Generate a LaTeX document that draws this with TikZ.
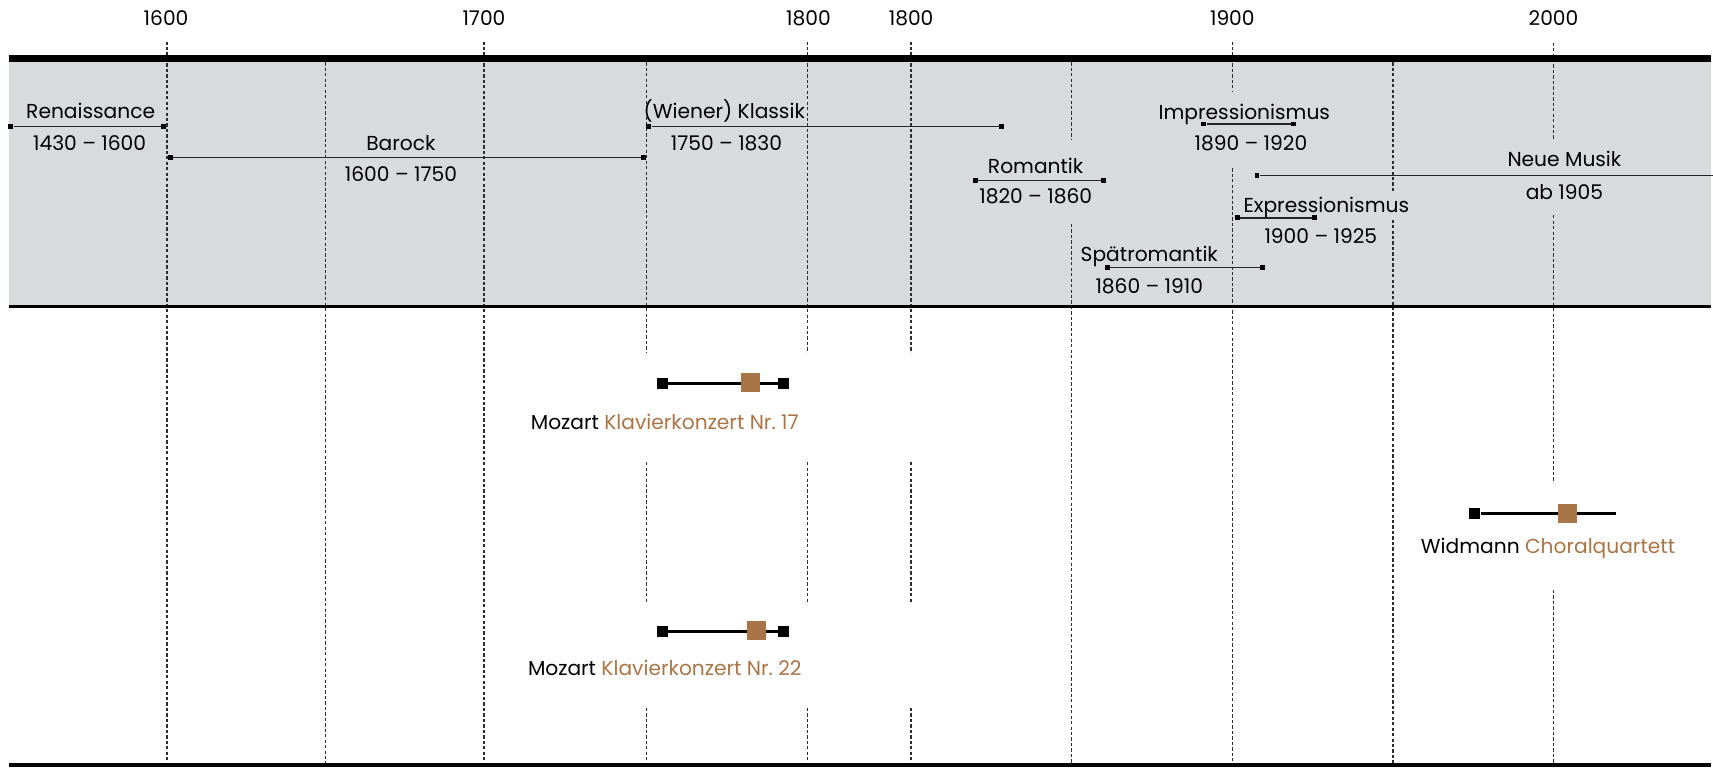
\documentclass[tikz,border=0pt]{standalone}
\usepackage{fontspec}
\setmainfont{Poppins}
\usetikzlibrary{positioning}

\definecolor{bandgray}{HTML}{D9DADC}
\definecolor{werkbraun}{HTML}{A97547}
\definecolor{gridgray}{HTML}{2E2E2E}

\tikzset{
  gridline/.style={gridgray, line width=1.2pt, dash pattern=on 3pt off 2pt},
  era/.style={line width=1.1pt, black!85},
  endpt/.style={rectangle, fill=black, inner sep=0pt, minimum size=4.5pt},
  lab/.style={inner sep=0pt, text height=13.4pt, text depth=0pt,
    font=\fontsize{18.5}{20}\selectfont},
  workline/.style={line width=2.6pt, black},
  workend/.style={rectangle, fill=black, inner sep=0pt, minimum size=10pt},
  workmark/.style={rectangle, fill=werkbraun, inner sep=0pt, minimum size=17.5pt}
}

\begin{document}
\begin{tikzpicture}[x=1pt, y=-1pt]
  \useasboundingbox (0,0) rectangle (1568,703);

  % band
  \fill[bandgray] (8,55) rectangle (1566,281);

  % dashed grid
  \foreach \x/\ya/\yb in {153/38/700, 298/57/700, 443/38/700,
      592/57/323, 592/423/551, 592/648/700,
      739/38/323, 739/423/551, 739/648/700,
      834/38/323, 834/423/551, 834/648/700,
      981/57/128, 981/205/700, 1128/38/84, 1128/154/700,
      1275/57/174.5, 1275/201/700,
      1422/39/127, 1422/197/442, 1422/540/700}
    \draw[gridline] (\x,\ya) -- (\x,\yb);

  % frame lines
  \draw[line width=6.4pt] (8,53.5) -- (1566,53.5);
  \draw[line width=3pt] (8,280.7) -- (1566,280.7);
  \draw[line width=4pt] (8,700.5) -- (1566,700.5);

  % years
  \foreach \x/\yr in {152/1600, 443/1700, 740/1800, 834/1800, 1128/1900, 1422/2000}
    \node[lab] (yr\x) at (\x,17) {\yr};

  % epochs
  \foreach \n/\xa/\xb/\y in {ren/10/150/116, bar/156/589/144, kla/594/917/116,
      rom/893/1010/165, spr/1014/1156/245, imp/1102/1184/113.5,
      exp/1133/1203/199.5}{
    \node[endpt] (\n-l) at (\xa,\y) {};
    \node[endpt] (\n-r) at (\xb,\y) {};
    \draw[era] (\n-l) -- (\n-r);
  }
  \node[endpt] (neu-l) at (1150.6,161) {};
  \coordinate (neu-r) at (1568,161);
  \draw[era] (neu-l) -- (neu-r);

  \node[lab] (ren) at (83,102) {Renaissance};
  \node[lab] (ren-d) at (82,131) {1430 – 1600};
  \node[lab] (bar) at (367,131) {Barock};
  \node[lab] (bar-d) at (367,159) {1600 – 1750};
  \node[lab] (kla) at (663,102) {(Wiener) Klassik};
  \node[lab] (kla-d) at (665,131) {1750 – 1830};
  \node[lab] (rom) at (948,152) {Romantik};
  \node[lab] (rom-d) at (948,180) {1820 – 1860};
  \node[lab] (spr) at (1052,233) {Spätromantik};
  \node[lab] (spr-d) at (1052,262) {1860 – 1910};
  \node[lab] (imp) at (1139,102.5) {Impressionismus};
  \node[lab] (imp-d) at (1145,131) {1890 – 1920};
  \node[lab] (exp) at (1214,188) {Expressionismus};
  \node[lab] (exp-d) at (1209,216) {1900 – 1925};
  \node[lab] (neu) at (1432,146) {Neue Musik};
  \node[lab] (neu-d) at (1432,175.5) {ab 1905};

  % works
  \node[workend] (kk17-l) at (606,351) {};
  \node[workend] (kk17-r) at (717,351) {};
  \draw[workline] (kk17-l) -- (kk17-r);
  \node[workmark] (kk17) at (687,350) {};
  \node[lab] (kk17-t) at (608.5,386) {Mozart \textcolor{werkbraun}{Klavierkonzert Nr.~17}};

  \node[workend] (kk22-l) at (606,578) {};
  \node[workend] (kk22-r) at (717,578) {};
  \draw[workline] (kk22-l) -- (kk22-r);
  \node[workmark] (kk22) at (692.6,577) {};
  \node[lab] (kk22-t) at (608.5,612) {Mozart \textcolor{werkbraun}{Klavierkonzert Nr.~22}};

  \node[workend] (cq-l) at (1350,470) {};
  \coordinate (cq-r) at (1479,470);
  \draw[workline] (cq-l) -- (cq-r);
  \node[workmark] (cq) at (1435,470) {};
  \node[lab] (cq-t) at (1417,500) {Widmann \textcolor{werkbraun}{Choralquartett}};
\end{tikzpicture}
\end{document}
